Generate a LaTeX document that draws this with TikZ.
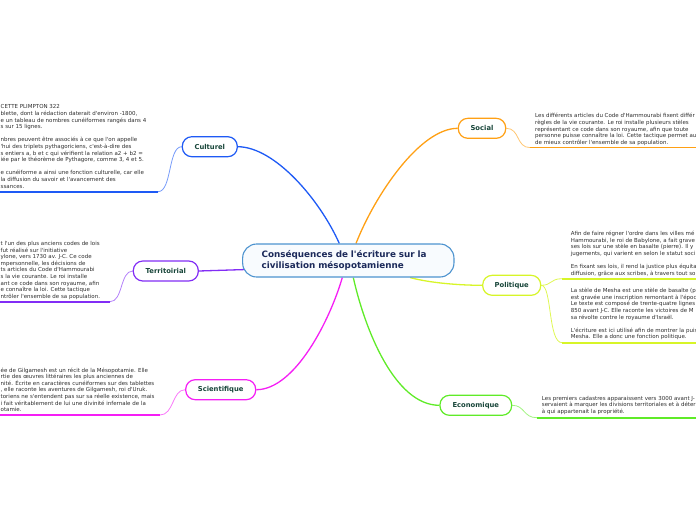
\documentclass[tikz,border=0pt]{standalone}
\usepackage{fontspec}
\newfontfamily\dvs{DejaVu Sans}
\usetikzlibrary{backgrounds}
\definecolor{cblue}{RGB}{30,90,245}
\definecolor{cpurp}{RGB}{130,45,245}
\definecolor{cmag}{RGB}{245,30,245}
\definecolor{corange}{RGB}{255,160,20}
\definecolor{cyel}{RGB}{215,245,40}
\definecolor{cgreen}{RGB}{95,235,40}
\definecolor{mainborder}{RGB}{77,147,207}
\definecolor{mainfill}{RGB}{248,251,254}
\definecolor{maintext}{RGB}{28,42,90}
\definecolor{labelcol}{RGB}{24,70,58}
\definecolor{bodycol}{RGB}{45,45,45}
\begin{document}
\begin{tikzpicture}[x=1pt,y=-1pt,
  branch/.style={draw, rectangle, rounded corners=9.5pt, line width=1.2pt, fill=white,
    minimum height=20pt, inner sep=0pt, text=labelcol,
    font={\dvs\fontsize{6.8}{8}\selectfont\bfseries}},
  body/.style={anchor=north west, inner sep=0pt, align=left, text=bodycol,
    font={\dvs\fontsize{5.5}{6.6}\selectfont}},
  mainline/.style={line width=1.3pt},
  subline/.style={line width=0.8pt},
  uline/.style={line width=1.6pt}]
\useasboundingbox (0,0) rectangle (696,520);
\clip (0,0) rectangle (696,520);

% central node
\node[draw=mainborder, fill=mainfill, rectangle, rounded corners=14pt, line width=1.1pt,
  minimum height=33pt, inner xsep=19pt, inner ysep=0pt, text width=173.3pt, align=left,
  text=maintext, font={\dvs\fontsize{8.8}{10.3}\selectfont\bfseries}]
  (main) at (348.3,260.5) {Conséquences de l'écriture sur la\\civilisation mésopotamienne};

% branch nodes
\node[branch, draw=cblue, minimum width=55pt] (cult) at (209.8,146.7) {Culturel};
\node[branch, draw=cpurp, minimum width=65pt] (terr) at (165.8,271) {Territoirial};
\node[branch, draw=cmag, minimum width=70pt] (sci) at (220.7,389.7) {Scientifique};
\node[branch, draw=corange, minimum width=47.4pt] (soc) at (482,128.3) {Social};
\node[branch, draw=cyel, minimum width=58pt] (pol) at (511.7,285.3) {Politique};
\node[branch, draw=cgreen, minimum width=71.7pt] (eco) at (475.8,405.3) {Economique};

% text blocks
\node[body] (tcult) at (0.5,104.6) {CETTE PLIMPTON 322\\
blette, dont la rédaction daterait d'environ -1800,\\
e un tableau de nombres cunéiformes rangés dans 4\\
s sur 15 lignes.\\[6.6pt]
nbres peuvent être associés à ce que l'on appelle\\
'hui des triplets pythagoriciens, c'est-à-dire des\\
s entiers a, b et c qui vérifient la relation a2 + b2 =\\
iée par le théorème de Pythagore, comme 3, 4 et 5.\\[6.6pt]
e cunéiforme a ainsi une fonction culturelle, car elle\\
la diffusion du savoir et l'avancement des\\
ssances.};

\node[body] (tterr) at (0.5,241.2) {t l'un des plus anciens codes de lois\\
fut réalisé sur l'initiative\\
ylone, vers 1730 av. J-C. Ce code\\
mpersonnelle, les décisions de\\
ts articles du Code d'Hammourabi\\
s la vie courante. Le roi installe\\
ant ce code dans son royaume, afin\\
e connaître la loi. Cette tactique\\
ntrôler l'ensemble de sa population.};

\node[body] (tsci) at (0.5,367.5) {ée de Gilgamesh est un récit de la Mésopotamie. Elle\\
rtie des œuvres littéraires les plus anciennes de\\
nité. Écrite en caractères cunéiformes sur des tablettes\\
, elle raconte les aventures de Gilgamesh, roi d'Uruk.\\
toriens ne s'entendent pas sur sa réelle existence, mais\\
i fait véritablement de lui une divinité infernale de la\\
otamie.};

\node[body] (tsoc) at (535,113.2) {Les différents articles du Code d'Hammourabi fixent différ\\
règles de la vie courante. Le roi installe plusieurs stèles\\
représentant ce code dans son royaume, afin que toute\\
personne puisse connaître la loi. Cette tactique permet au\\
de mieux contrôler l'ensemble de sa population.};

\node[body] (tpol1) at (570.7,231) {Afin de faire régner l'ordre dans les villes mé\\
Hammourabi, le roi de Babylone, a fait grave\\
ses lois sur une stèle en basalte (pierre). Il y\\
jugements, qui varient en selon le statut soci\\[6.6pt]
En fixant ses lois, il rend la justice plus équita\\
diffusion, grâce aux scribes, à travers tout so};

\node[body] (tpol2) at (570.7,288) {La stèle de Mesha est une stèle de basalte (p\\
est gravée une inscription remontant à l'époc\\
Le texte est composé de trente-quatre lignes\\
850 avant J-C. Elle raconte les victoires de M\\
sa révolte contre le royaume d'Israël.\\[6.6pt]
L'écriture est ici utilisé afin de montrer la puis\\
Mesha. Elle a donc une fonction politique.};

\node[body] (teco) at (541.7,396) {Les premiers cadastres apparaissent vers 3000 avant J-\\
servaient à marquer les divisions territoriales et à déter\\
à qui appartenait la propriété.};

% underline coordinates
\coordinate (cultU) at (158,191.7);   \coordinate (cultE) at (0,191.7);
\coordinate (terrU) at (110,301.7);   \coordinate (terrE) at (0,301.7);
\coordinate (sciU) at (160,415);      \coordinate (sciE) at (0,415);
\coordinate (socU) at (530,147.6);    \coordinate (socE) at (696,147.6);
\coordinate (polU1) at (562,278.7);   \coordinate (polE1) at (696,278.7);
\coordinate (polU2) at (562,342.7);   \coordinate (polE2) at (696,342.7);
\coordinate (ecoU) at (537,417.7);    \coordinate (ecoE) at (696,417.7);

\begin{scope}[on background layer]
% main connectors
\draw[mainline, cblue] ([xshift=-9pt]main.north) .. controls (320,200) and (275,147) .. (cult.east);
\draw[mainline, corange] ([xshift=7.7pt]main.north) .. controls (375,195) and (420,128.3) .. (soc.west);
\draw[mainline, cmag] ([xshift=-6pt]main.south) .. controls (330,320) and (295,389.7) .. (sci.east);
\draw[mainline, cgreen] ([xshift=5pt]main.south) .. controls (365,330) and (395,405.3) .. (eco.west);
\draw[mainline, cyel] ([xshift=61.7pt]main.south) .. controls (430,283) and (460,285.3) .. (pol.west);
\draw[mainline, cpurp] (terr.east) -- ([shift={(4pt,-9pt)}]main.west);

% sub connectors
\draw[subline, cblue!60] (cult.west) .. controls (168,146.7) and (172,191.7) .. (cultU);
\draw[subline, cpurp!60] (terr.west) .. controls (120,271) and (123,301.7) .. (terrU);
\draw[subline, cmag!60] (sci.west) .. controls (172,389.7) and (174,415) .. (sciU);
\draw[subline, corange!60] (soc.east) .. controls (520,128.3) and (516,147.6) .. (socU);
\draw[subline, cyel!80] (pol.east) .. controls (552,285.3) and (550,278.7) .. (polU1);
\draw[subline, cyel!80] (pol.east) .. controls (552,285.3) and (548,342.7) .. (polU2);
\draw[subline, cgreen!60] (eco.east) .. controls (525,405.3) and (523,417.7) .. (ecoU);

% underlines
\draw[uline, cblue] (cultU) -- (cultE);
\draw[uline, cpurp] (terrU) -- (terrE);
\draw[uline, cmag] (sciU) -- (sciE);
\draw[uline, corange] (socU) -- (socE);
\draw[uline, cyel] (polU1) -- (polE1);
\draw[uline, cyel] (polU2) -- (polE2);
\draw[uline, cgreen] (ecoU) -- (ecoE);
\end{scope}
\end{tikzpicture}
\end{document}
